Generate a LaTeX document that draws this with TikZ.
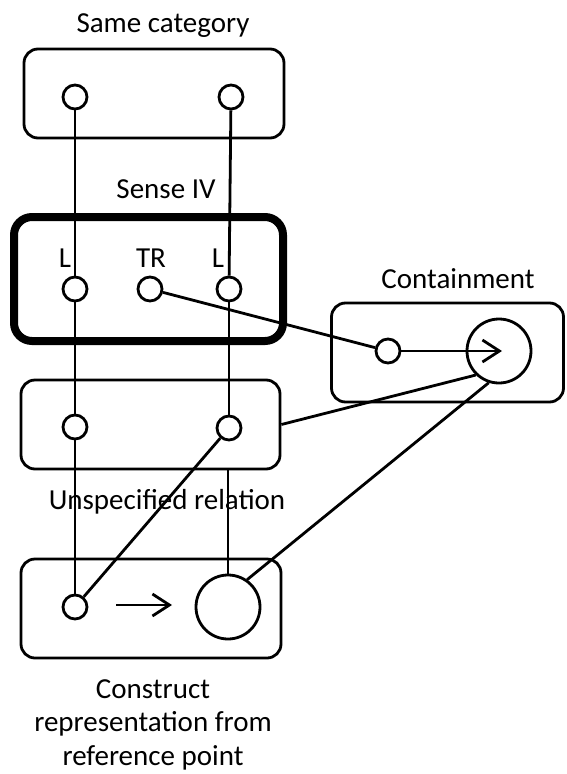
\documentclass[tikz,border=0pt]{standalone}
\usepackage{fontspec}
\setmainfont{Carlito}
\usetikzlibrary{arrows.meta}
\begin{document}
\begin{tikzpicture}[x=1pt,y=-1pt,
  every node/.style={font=\fontsize{29}{33.5}\selectfont},
  roundbox/.style={draw, line width=2.8pt, rounded corners=14pt, inner sep=0pt},
  heavybox/.style={draw, line width=8pt, rounded corners=18pt, inner sep=0pt},
  smalldot/.style={draw, circle, fill=white, line width=2.8pt, minimum size=24pt, inner sep=0pt},
  bigdot/.style={draw, circle, line width=2.8pt, minimum size=64pt, inner sep=0pt},
  caption/.style={anchor=base, inner sep=0pt},
  link/.style={line width=2.8pt},
  arrowline/.style={line width=2.8pt, -{Straight Barb[length=17pt,width=22pt]}}]

\useasboundingbox (0,0) rectangle (566,774);

% frames
\node[roundbox, minimum width=260pt, minimum height=89pt] (same) at (154,93.5) {};
\node[heavybox, minimum width=269pt, minimum height=124pt] (sense) at (148.5,279) {};
\node[roundbox, minimum width=259pt, minimum height=89pt] (mid) at (150.5,424.5) {};
\node[roundbox, minimum width=260pt, minimum height=99pt] (cons) at (151,608.5) {};
\node[roundbox, minimum width=232pt, minimum height=99pt] (cont) at (447.5,352.5) {};

% captions
\node[caption] (tSame) at (163,32) {Same category};
\node[caption] (tSense) at (166,198) {Sense IV};
\node[caption] (tCont) at (458,288) {Containment};
\node[caption] (tUns) at (167,509) {Unspecified relation};
\node[anchor=north, align=center, inner sep=0pt] (tCons) at (153,679)
  {Construct\\representation from\\reference point};
\node[caption] (tL1) at (65,267) {L};
\node[caption] (tTR) at (151,267) {TR};
\node[caption] (tL2) at (218,267) {L};

% points
\node[smalldot] (a1) at (75,97) {};
\node[smalldot] (a2) at (231,97) {};
\node[smalldot] (b1) at (75,289) {};
\node[smalldot] (tr) at (150,289) {};
\node[smalldot] (b2) at (229,289) {};
\node[smalldot] (c1) at (75,427) {};
\node[smalldot] (c2) at (229,428) {};
\node[smalldot] (d1) at (75,607) {};
\node[bigdot] (D) at (228,607) {};
\node[smalldot] (k) at (388,351) {};
\node[bigdot] (K) at (499,351) {};

\coordinate (kend) at (502,351);
\coordinate (ms) at (116,605);
\coordinate (me) at (172,605);

% connections
\draw[link] (a1) -- (b1);
\draw[link] (b1) -- (c1);
\draw[link] (c1) -- (d1);
\draw[link] (a2) -- (b2);
\draw[link] (b2) -- (c2);
\draw[link] (D.north |- mid.south) -- (D.north);
\draw[link] (c2) -- (d1);
\draw[link] (tr) -- (k);
\draw[link] (mid.east) -- (K.226);
\draw[link] (D.55) -- (K.252);

% arrows
\draw[arrowline] (k) -- (kend);
\draw[arrowline] (ms) -- (me);

\end{tikzpicture}
\end{document}
